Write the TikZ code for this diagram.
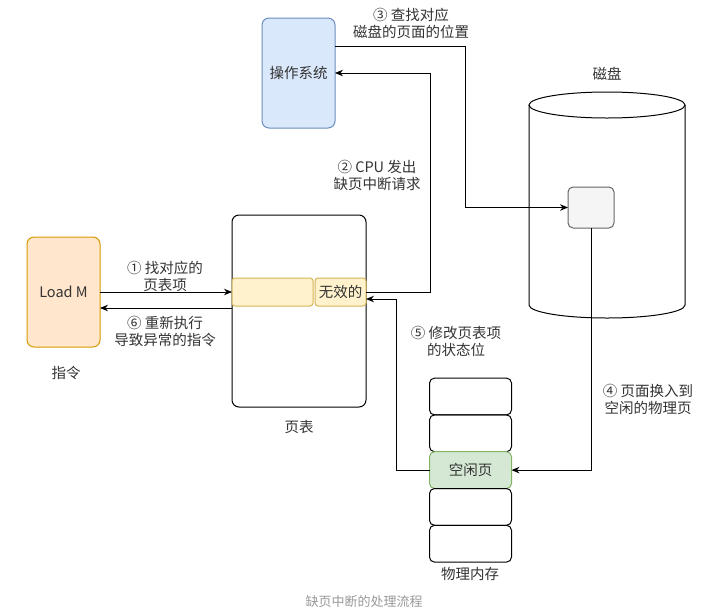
\documentclass[tikz,border=0pt]{standalone}
\usepackage{fontspec}
\setmainfont{Noto Sans CJK SC}
\usepackage{xcolor}
\usepackage{tikz}
\usetikzlibrary{arrows.meta, positioning, calc}

\definecolor{osfill}{HTML}{DAE8FC}
\definecolor{osline}{HTML}{6C8EBF}
\definecolor{insfill}{HTML}{FFE6CC}
\definecolor{insline}{HTML}{D79B00}
\definecolor{rowfill}{HTML}{FFF2CC}
\definecolor{rowline}{HTML}{D6B656}
\definecolor{freefill}{HTML}{D5E8D4}
\definecolor{freeline}{HTML}{82B366}
\definecolor{pagefill}{HTML}{F5F5F5}
\definecolor{pageline}{HTML}{666666}
\definecolor{txt}{HTML}{333333}
\definecolor{capt}{HTML}{999999}

\begin{document}
\begin{tikzpicture}[x=1pt, y=-1pt, font=\fontsize{14.5}{17}\selectfont, text=txt,
    box/.style={draw, rounded corners=7pt, line width=1pt, align=center, inner sep=0pt, outer sep=0pt},
    cell/.style={box, rounded corners=5pt, minimum width=82, minimum height=36.8},
    link/.style={-{Stealth[length=8pt,width=6.5pt]}, line width=0.9pt},
    note/.style={align=center}]
    \useasboundingbox[fill=white] (0,0) rectangle (707,614);

    \node[box, fill=osfill, draw=osline, minimum width=73, minimum height=110] (os) at (298.5,73) {操作系统};
    \node[box, fill=insfill, draw=insline, minimum width=73, minimum height=110] (loadm) at (63.5,292) {Load M};
    \node[note] (loadlbl) at (66,373) {指令};
    \node[box, minimum width=134, minimum height=192] (pgtable) at (299,311) {};
    \node[note] (pglbl) at (299,427) {页表};
    \node[box, rounded corners=3pt, fill=rowfill, draw=rowline, minimum width=81, minimum height=28] (rowleft) at (272.5,292) {};
    \node[box, rounded corners=3pt, fill=rowfill, draw=rowline, minimum width=51, minimum height=28] (invalid) at (340.5,292) {无效的};

    \draw[line width=1pt] (529,105) -- (529,305) arc[start angle=180, end angle=360, x radius=78pt, y radius=13pt] -- (685,105);
    \draw[line width=1pt] (607,105) ellipse [x radius=78pt, y radius=13pt];
    \node[note] (disklbl) at (607,74) {磁盘};
    \node[box, rounded corners=5pt, fill=pagefill, draw=pageline, minimum width=46, minimum height=41] (diskpage) at (591,207.5) {};

    \node[cell] (mem1) at (470.5,396.5) {};
    \node[cell, below=0pt of mem1] (mem2) {};
    \node[cell, below=0pt of mem2, fill=freefill, draw=freeline] (freepage) {空闲页};
    \node[cell, below=0pt of freepage] (mem4) {};
    \node[cell, below=0pt of mem4] (mem5) {};
    \node[note] (memlbl) at (470,574) {物理内存};

    \draw[link] (loadm.east) -- (rowleft.west);
    \coordinate (back) at ($(rowleft.south west)+(0,2)$);
    \draw[link] (back) -- (loadm.east |- back);
    \node[note] (step1) at (165,276) {① 找对应的\\页表项};
    \node[note] (step6) at (165,331) {⑥ 重新执行\\导致异常的指令};

    \draw[link] (invalid.east) -- ++(64,0) |- (os.east);
    \node[note] (step2) at (377,175) {② CPU 发出\\缺页中断请求};

    \draw[link] ($(os.east)+(0,-27)$) -- ++(130,0) |- (diskpage.west);
    \node[note] (step3) at (411,23) {③ 查找对应\\磁盘的页面的位置};

    \draw[link] (diskpage.south) |- (freepage.east);
    \node[note] (step4) at (648,399) {④ 页面换入到\\空闲的物理页};

    \draw[link] (freepage.west) -- ++(-33,0) |- ($(invalid.east)+(0,7)$);
    \node[note] (step5) at (456,341) {⑤ 修改页表项\\的状态位};

    \node[text=capt, font=\fontsize{13}{15}\selectfont] (caption) at (364,602) {缺页中断的处理流程};
\end{tikzpicture}
\end{document}
